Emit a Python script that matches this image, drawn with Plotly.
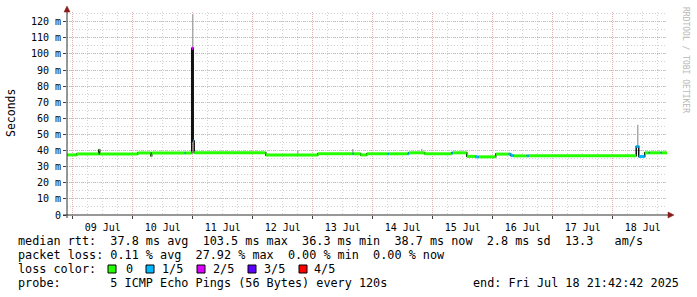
import plotly.graph_objects as go
from datetime import datetime

# ---------------- data ----------------
t_begin = "2025-07-08 21:42:42"
t_end = "2025-07-18 21:42:42"

seg_start = [
    "2025-07-08 21:42:42", "2025-07-09 01:36:00", "2025-07-09 10:24:00", "2025-07-09 10:48:00",
    "2025-07-10 02:00:00", "2025-07-10 07:12:00", "2025-07-10 07:36:00", "2025-07-10 20:48:00",
    "2025-07-10 21:12:00", "2025-07-10 23:36:00", "2025-07-11 00:12:00", "2025-07-11 00:36:00",
    "2025-07-12 05:12:00", "2025-07-13 02:00:00", "2025-07-13 16:00:00", "2025-07-13 16:24:00",
    "2025-07-13 19:12:00", "2025-07-13 21:36:00", "2025-07-14 06:00:00", "2025-07-14 06:24:00",
    "2025-07-14 14:00:00", "2025-07-14 14:24:00", "2025-07-14 20:48:00", "2025-07-15 07:36:00",
    "2025-07-15 08:00:00", "2025-07-15 13:36:00", "2025-07-15 17:12:00", "2025-07-15 18:24:00",
    "2025-07-16 01:12:00", "2025-07-16 06:24:00", "2025-07-16 07:12:00", "2025-07-16 08:24:00",
    "2025-07-16 13:36:00", "2025-07-16 14:24:00", "2025-07-18 09:24:00", "2025-07-18 10:24:00",
    "2025-07-18 12:48:00", "2025-07-18 14:24:00", "2025-07-18 14:48:00", "2025-07-18 19:12:00",
    "2025-07-18 19:36:00",
]
seg_median_ms = [
    37.3, 37.9, 40.3, 37.9,
    38.5, 36.8, 38.5, 38.5,
    38.5, 103.5, 46.0, 38.6,
    37.3, 38.0, 38.0, 38.0,
    37.3, 38.0, 38.0, 38.0,
    38.0, 38.6, 38.0, 38.6,
    38.6, 36.4, 36.1, 36.1,
    37.8, 37.8, 36.9, 36.7,
    36.7, 36.7, 42.5, 36.3,
    38.6, 38.6, 38.6, 38.6,
    38.6,
]
seg_loss = [
    0, 0, 0, 0,
    0, 0, 0, 1,
    0, 2, 1, 0,
    0, 0, 1, 0,
    0, 0, 1, 0,
    1, 0, 0, 1,
    0, 0, 1, 0,
    0, 1, 1, 0,
    1, 0, 1, 1,
    0, 1, 0, 1,
    0,
]

smoke_time = ["2025-07-11 00:00:00", "2025-07-12 18:00:00", "2025-07-13 16:00:00",
              "2025-07-14 19:36:00", "2025-07-18 10:00:00"]
smoke_low_ms = [103.5, 38.0, 38.5, 39.0, 43.0]
smoke_high_ms = [124.5, 40.0, 41.0, 41.0, 56.0]

loss_labels = ["0", "1/5", "2/5", "3/5", "4/5"]
loss_colors = ["#26ff00", "#00b8ff", "#dd00ff", "#5e00ff", "#ff0000"]

y_ticks = list(range(0, 121, 10))
y_ticktext = ["0"] + [f"{v} m" for v in y_ticks[1:]]

stats_rtt = "median rtt:  37.8 ms avg  103.5 ms max  36.3 ms min  38.7 ms now  2.8 ms sd  13.3   am/s"
stats_loss = "packet loss: 0.11 % avg  27.92 % max  0.00 % min  0.00 % now"
probe_txt = "probe:       5 ICMP Echo Pings (56 Bytes) every 120s"
end_txt = "end: Fri Jul 18 21:42:42 2025"

# ---------------- figure ----------------
fmt = "%Y-%m-%d %H:%M:%S"
starts = [datetime.strptime(s, fmt) for s in seg_start]
tend = datetime.strptime(t_end, fmt)
ends = starts[1:] + [tend]

fig = go.Figure()

# smoke
for t, lo, hi in zip(smoke_time, smoke_low_ms, smoke_high_ms):
    fig.add_trace(go.Scatter(x=[t, t], y=[lo, hi], mode="lines",
                             line=dict(color="#a8a8a8", width=1.5), hoverinfo="skip"))

# black median step line
fig.add_trace(go.Scatter(x=starts + [tend], y=seg_median_ms + [seg_median_ms[-1]],
                         mode="lines", line=dict(color="#111111", width=1.5, shape="hv"),
                         hoverinfo="skip"))

# loss-coloured median segments
for k, col in enumerate(loss_colors):
    xs, ys = [], []
    for s, e, v, l in zip(starts, ends, seg_median_ms, seg_loss):
        if l == k:
            xs += [s, e, None]
            ys += [v, v, None]
    if xs:
        fig.add_trace(go.Scatter(x=xs, y=ys, mode="lines",
                                 line=dict(color=col, width=3), hoverinfo="skip"))

MONO = "DejaVu Sans Mono"
major_col = "#e4b0b0"
minor_col = "#d2d2d2"

fig.update_layout(
    width=697, height=297,
    margin=dict(l=67, r=30, t=12, b=82),
    paper_bgcolor="white", plot_bgcolor="white",
    showlegend=False,
    font=dict(family=MONO, size=10, color="#000000"),
    xaxis=dict(
        type="date", range=[t_begin, t_end],
        tick0="2025-07-09", dtick=86400000, tickformat="%d %b",
        ticklabelmode="period",
        showgrid=True, gridcolor=major_col, griddash="1px,1px", gridwidth=1,
        ticks="outside", ticklen=3, tickcolor="#404040",
        minor=dict(tick0="2025-07-09", dtick=21600000, showgrid=True,
                   gridcolor=minor_col, griddash="1px,2px", gridwidth=1),
        zeroline=False, showline=False,
        tickfont=dict(family=MONO, size=10, color="#000000"),
    ),
    yaxis=dict(
        range=[0, 126],
        tickvals=y_ticks, ticktext=y_ticktext,
        showgrid=True, gridcolor=major_col, griddash="1px,1px", gridwidth=1,
        ticks="outside", ticklen=3, tickcolor="#404040",
        minor=dict(dtick=5, tick0=0, showgrid=True, gridcolor=minor_col,
                   griddash="1px,2px", gridwidth=1),
        zeroline=False, showline=False,
        tickfont=dict(family=MONO, size=10, color="#000000"),
    ),
)


def px(x):
    return (x - 67) / 600.0


def py(y):
    return (215 - y) / 203.0


shapes = []
# axes
shapes.append(dict(type="line", xref="paper", yref="paper", x0=px(67), x1=px(67),
                   y0=py(218), y1=py(9), line=dict(color="#303030", width=1)))
shapes.append(dict(type="line", xref="paper", yref="paper", x0=px(63), x1=px(669),
                   y0=py(215), y1=py(215), line=dict(color="#303030", width=1)))
# arrows
shapes.append(dict(type="path", xref="paper", yref="paper",
                   path=f"M {px(64)} {py(12)} L {px(70)} {py(12)} L {px(67)} {py(6)} Z",
                   fillcolor="#8b1a1a", line=dict(color="#8b1a1a", width=0.5)))
shapes.append(dict(type="path", xref="paper", yref="paper",
                   path=f"M {px(668)} {py(212)} L {px(668)} {py(218)} L {px(674)} {py(215)} Z",
                   fillcolor="#8b1a1a", line=dict(color="#8b1a1a", width=0.5)))

annotations = []
TXT = 11.8


def nb(s):
    return s.replace(" ", "\u00a0")


def add_text(x, y, s, anchor="left", size=TXT, color="#000000", angle=0):
    annotations.append(dict(xref="paper", yref="paper", x=px(x), y=py(y), text=nb(s),
                            showarrow=False, xanchor=anchor, yanchor="middle",
                            textangle=angle,
                            font=dict(family=MONO, size=size, color=color)))


add_text(16, 241, stats_rtt)
add_text(16, 255, stats_loss)
add_text(16, 269, "loss color:")
add_text(16, 283, probe_txt)
add_text(681, 283, end_txt, anchor="right")

sq_x = [108, 146, 197, 248, 299]
lab_x = [124, 160, 211, 262, 312]
for sx, lx, lab, col in zip(sq_x, lab_x, loss_labels, loss_colors):
    shapes.append(dict(type="rect", xref="paper", yref="paper",
                       x0=px(sx), x1=px(sx + 8), y0=py(273), y1=py(265),
                       fillcolor=col, line=dict(color="#000000", width=1)))
    add_text(lx, 269, lab)

# y title and watermark
annotations.append(dict(xref="paper", yref="paper", x=px(11), y=py(113), text="Seconds",
                        showarrow=False, xanchor="center", yanchor="middle", textangle=-90,
                        font=dict(family=MONO, size=11.5, color="#000000")))
annotations.append(dict(xref="paper", yref="paper", x=px(686), y=py(60),
                        text="RRDTOOL / TOBI OETIKER", showarrow=False,
                        xanchor="center", yanchor="middle", textangle=90,
                        font=dict(family=MONO, size=8, color="#b8b8b8")))

fig.update_layout(shapes=shapes, annotations=annotations)
fig.write_html("out.html")
